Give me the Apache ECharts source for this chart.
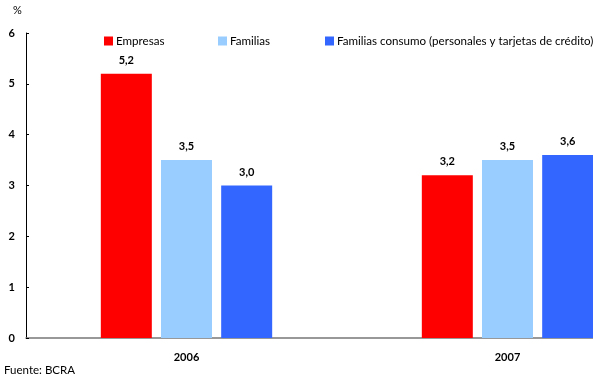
<!DOCTYPE html>
<html><head><meta charset="utf-8">
<script src="https://cdn.jsdelivr.net/npm/echarts@6/dist/echarts.min.js"></script>
<style>html,body{margin:0;padding:0;background:#fff}#c{width:593px;height:376px}</style>
</head><body><div id="c"></div>
<script>
var categories = ['2006', '2007'];
var empresas = [5.2, 3.2];
var familias = [3.5, 3.5];
var consumo = [3.0, 3.6];
var seriesNames = ['Empresas', 'Familias', 'Familias consumo (personales y tarjetas de crédito)'];
var yTicks = [0, 1, 2, 3, 4, 5, 6];
var colors = ['#FF0000', '#99CCFF', '#3366FF'];
var FONT = 'Lato';

var chart = echarts.init(document.getElementById('c'));
function lbl() {
  return {show: true, position: 'top', distance: 8, fontFamily: FONT, fontWeight: 'bold', fontSize: 11, color: '#000',
    formatter: function (p) { return p.value.toFixed(1).replace('.', ','); }};
}
var legendLefts = [99, 213, 320];
chart.setOption({
  animation: false,
  textStyle: {fontFamily: FONT},
  grid: {left: 26, top: 33, height: 305, width: 642, containLabel: false, outerBoundsMode: 'none'},
  legend: seriesNames.map(function (n, i) {
    return {data: [n], left: legendLefts[i], top: 30, itemWidth: 9, itemHeight: 9, itemGap: 4, icon: 'rect',
      textStyle: {fontFamily: FONT, fontSize: 11.6, color: '#000', padding: [0, 0, 0, -2]}};
  }),
  graphic: [
    {type: 'text', left: 13, top: 5, style: {text: '%', fontFamily: FONT, fontSize: 11, fill: '#000'}},
    {type: 'text', left: 4, top: 364, style: {text: 'Fuente: BCRA', fontFamily: FONT, fontSize: 11.5, fill: '#000'}}
  ],
  xAxis: {type: 'category', data: categories,
    axisLine: {lineStyle: {color: '#777', width: 1.5}}, axisTick: {show: false},
    axisLabel: {fontFamily: FONT, fontWeight: 'bold', fontSize: 11, color: '#000', margin: 14}},
  yAxis: {type: 'value', min: yTicks[0], max: yTicks[yTicks.length - 1], interval: 1,
    splitLine: {show: false},
    axisLine: {show: true, lineStyle: {color: '#000', width: 1}},
    axisTick: {show: true, inside: true, length: 3, lineStyle: {color: '#000'}},
    axisLabel: {fontFamily: FONT, fontWeight: 'bold', fontSize: 11, color: '#000', margin: 11}},
  series: [
    {name: seriesNames[0], type: 'bar', data: empresas, itemStyle: {color: colors[0]}, barWidth: 51, barGap: '18%', label: lbl()},
    {name: seriesNames[1], type: 'bar', data: familias, itemStyle: {color: colors[1]}, barWidth: 51, barGap: '18%', label: lbl()},
    {name: seriesNames[2], type: 'bar', data: consumo, itemStyle: {color: colors[2]}, barWidth: 51, barGap: '18%', label: lbl()}
  ]
});
</script></body></html>
